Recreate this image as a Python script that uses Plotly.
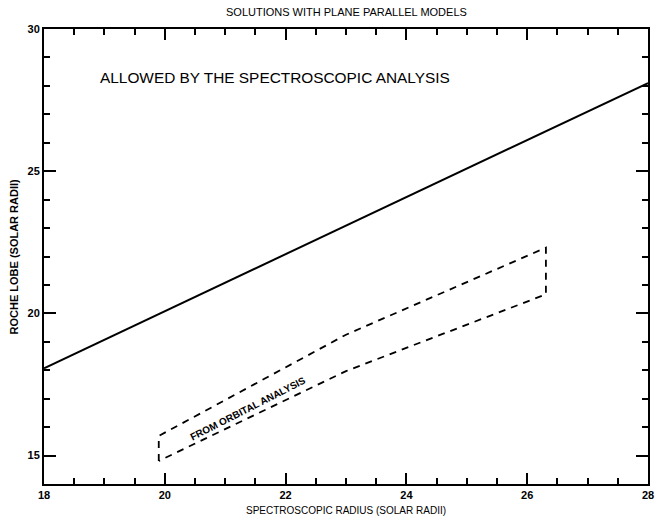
import plotly.graph_objects as go

# Upper limit on the Roche lobe allowed by the spectroscopic analysis
spec_radius = [18.0, 28.0]
roche_lobe = [18.07, 28.1]

# Region allowed by the orbital analysis (closed outline)
orbit_radius = [19.9, 19.9, 23.0, 26.31, 26.31, 23.0, 19.9]
orbit_lobe = [14.81, 15.69, 19.25, 22.31, 20.67, 17.97, 14.81]

x_ticks = [18, 20, 22, 24, 26, 28]
y_ticks = [15, 20, 25, 30]

FONT = "Liberation Sans, Arial, sans-serif"

fig = go.Figure()

fig.add_trace(go.Scatter(
    x=spec_radius, y=roche_lobe, mode="lines",
    line=dict(color="black", width=2), hoverinfo="skip", showlegend=False,
))
fig.add_trace(go.Scatter(
    x=orbit_radius, y=orbit_lobe, mode="lines",
    line=dict(color="black", width=1.8, dash="7px,6px"),
    hoverinfo="skip", showlegend=False,
))

tickfont = dict(family=FONT, size=11, color="black", weight="bold")

# Boxed axes with long inward major ticks and short inward minor ticks
fig.update_xaxes(
    range=[18, 28], tickvals=x_ticks,
    showgrid=False, zeroline=False, showline=True, linecolor="black",
    linewidth=2, mirror="ticks", ticks="inside", tickcolor="#000000",
    tickwidth=2.2, ticklen=11, tickfont=tickfont,
    minor=dict(ticks="inside", dtick=0.5, tick0=18, ticklen=6,
               tickwidth=1.8, tickcolor="#000000"),
)
fig.update_yaxes(
    range=[14, 30], tickvals=y_ticks,
    showgrid=False, zeroline=False, showline=True, linecolor="black",
    linewidth=2, mirror="ticks", ticks="inside", tickcolor="#000000",
    tickwidth=2.2, ticklen=12, tickfont=tickfont,
    minor=dict(ticks="inside", dtick=1, tick0=14, ticklen=6,
               tickwidth=1.8, tickcolor="#000000"),
)

annotations = [
    dict(text="SOLUTIONS WITH PLANE PARALLEL MODELS", xref="paper", yref="paper",
         x=0.5, y=1, yshift=17, showarrow=False, xanchor="center", yanchor="middle",
         font=dict(family=FONT, size=11, color="black")),
    dict(text="SPECTROSCOPIC RADIUS (SOLAR RADII)", xref="paper", yref="paper",
         x=0.5, y=0, yshift=-26, showarrow=False, xanchor="center", yanchor="middle",
         font=dict(family=FONT, size=10, color="black")),
    dict(text="ROCHE LOBE (SOLAR RADII)", xref="paper", yref="paper",
         x=0, y=0.5, xshift=-31, textangle=-90, showarrow=False,
         xanchor="center", yanchor="middle",
         font=dict(family=FONT, size=11, color="black", weight="bold")),
    dict(text="ALLOWED BY THE SPECTROSCOPIC ANALYSIS", x=21.82, y=28.28,
         showarrow=False, xanchor="center", yanchor="middle",
         font=dict(family=FONT, size=15.4, color="black")),
    dict(text="FROM ORBITAL ANALYSIS", x=21.38, y=16.64, textangle=-27,
         showarrow=False, xanchor="center", yanchor="middle",
         font=dict(family=FONT, size=10, color="black", weight="bold")),
]

fig.update_layout(
    width=660, height=517,
    margin=dict(l=44, r=6, t=29, b=33),
    paper_bgcolor="white", plot_bgcolor="white",
    annotations=annotations, showlegend=False,
)

fig.write_html("out.html")
